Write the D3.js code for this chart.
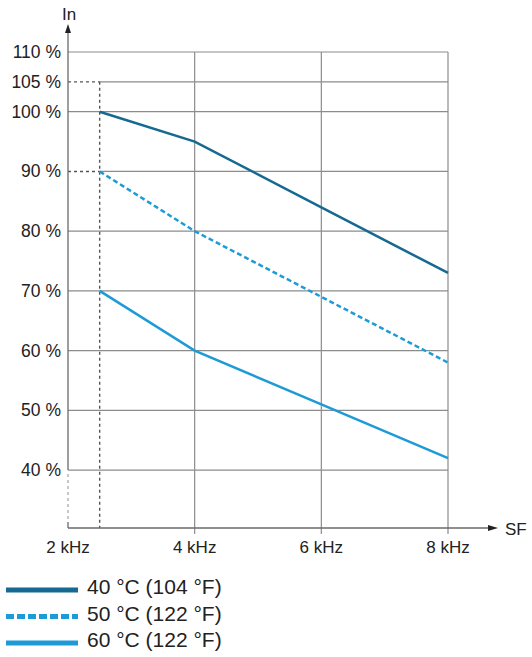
<!DOCTYPE html>
<html>
<head>
<meta charset="utf-8">
<script src="https://cdn.jsdelivr.net/npm/d3@7"></script>
<style>
body{margin:0;background:#fff}
svg{display:block;font-family:"Liberation Sans",Arial,sans-serif}
</style>
</head>
<body>
<svg id="chart" width="532" height="657"></svg>
<script>
var freqs=[2.5,4,6,8]
var in40=[100,95,84,73]
var in50=[90,80,69,58]
var in60=[70,60,51,42]
var xTicks=[2,4,6,8]
var yTicks=[40,50,60,70,80,90,100,105,110]
var legendLabels=["40 °C (104 °F)","50 °C (122 °F)","60 °C (122 °F)"]

var dark="#166990",light="#1e9bd7",grid="#8c8c8c",axisCol="#6a6a6a"

var svg=d3.select("#chart")

var x=d3.scaleLinear().domain([2,8]).range([68,448])
var y=d3.scaleLinear().domain([30.3,110]).range([528,52])

var startX=freqs[0]

// horizontal grid
svg.selectAll(".hgrid")
.data(yTicks)
.enter()
.append("line")
.attr("x1",d=>(d==90||d==105)?x(startX):x(2))
.attr("x2",x(8))
.attr("y1",d=>y(d))
.attr("y2",d=>y(d))
.attr("stroke",grid)
.attr("stroke-width",1.2)

// vertical grid + ticks
svg.selectAll(".vgrid")
.data(xTicks.slice(1))
.enter()
.append("line")
.attr("x1",d=>x(d))
.attr("x2",d=>x(d))
.attr("y1",y(110))
.attr("y2",y.range()[0]+6)
.attr("stroke",grid)
.attr("stroke-width",1.2)

// dashed reference lines
var refs=[
	[x(2),y(105),x(startX),y(105)],
	[x(2),y(90),x(startX),y(90)],
	[x(startX),y(105),x(startX),y.range()[0]]
]
svg.selectAll(".ref")
.data(refs)
.enter()
.append("line")
.attr("x1",d=>d[0]).attr("y1",d=>d[1])
.attr("x2",d=>d[2]).attr("y2",d=>d[3])
.attr("stroke","#555")
.attr("stroke-width",1.4)
.attr("stroke-dasharray","3,3")

// y axis (solid, break, solid)
var y0=y.range()[0]
svg.append("line")
.attr("x1",x(2)).attr("x2",x(2))
.attr("y1",y(40)).attr("y2",30)
.attr("stroke",axisCol).attr("stroke-width",1.3)
svg.append("line")
.attr("x1",x(2)).attr("x2",x(2))
.attr("y1",y(40)+4).attr("y2",y0-8)
.attr("stroke","#aaa").attr("stroke-width",1.3)
.attr("stroke-dasharray","3,3")
svg.append("line")
.attr("x1",x(2)).attr("x2",x(2))
.attr("y1",y0-6).attr("y2",y0)
.attr("stroke",axisCol).attr("stroke-width",1.3)
svg.append("path")
.attr("d",`M${x(2)},24 L${x(2)-3},33 L${x(2)+3},33 Z`)
.attr("fill","#222")

// x axis
svg.append("line")
.attr("x1",x(2)).attr("x2",490)
.attr("y1",y0).attr("y2",y0)
.attr("stroke",axisCol).attr("stroke-width",1.3)
svg.append("path")
.attr("d",`M498,${y0} L488,${y0-3} L488,${y0+3} Z`)
.attr("fill","#222")

svg.append("text")
.attr("x",x(2)-6).attr("y",20)
.attr("font-size",17).attr("fill","#222")
.text("In")
svg.append("text")
.attr("x",505).attr("y",y0+7)
.attr("font-size",17).attr("fill","#222")
.text("SF")

// tick labels
svg.selectAll(".ylab")
.data(yTicks)
.enter()
.append("text")
.attr("x",61)
.attr("y",d=>y(d)+6)
.attr("text-anchor","end")
.attr("font-size",17.5)
.attr("fill","#222")
.text(d=>d+" %")

svg.selectAll(".xlab")
.data(xTicks)
.enter()
.append("text")
.attr("x",d=>x(d))
.attr("y",y0+25)
.attr("text-anchor","middle")
.attr("font-size",17)
.attr("fill","#222")
.text(d=>d+" kHz")

// series
var series=[
	{vals:in40,color:dark,dash:null},
	{vals:in50,color:light,dash:"5,3"},
	{vals:in60,color:light,dash:null}
]
var line=d3.line()
.x((d,i)=>x(freqs[i]))
.y(d=>y(d))

svg.selectAll(".series")
.data(series)
.enter()
.append("path")
.attr("d",d=>line(d.vals))
.attr("fill","none")
.attr("stroke",d=>d.color)
.attr("stroke-width",2.5)
.attr("stroke-dasharray",d=>d.dash)

// legend
var leg=svg.selectAll(".leg")
.data(series)
.enter()
.append("g")
.attr("transform",(d,i)=>`translate(0,${590+i*26.5})`)

leg.append("line")
.attr("x1",6).attr("x2",78)
.attr("y1",0).attr("y2",0)
.attr("stroke",d=>d.color)
.attr("stroke-width",5)
.attr("stroke-dasharray",d=>d.dash?"8,3":null)

leg.append("text")
.attr("x",87).attr("y",4)
.attr("font-size",21)
.attr("fill","#222")
.text((d,i)=>legendLabels[i])
</script>
</body>
</html>
